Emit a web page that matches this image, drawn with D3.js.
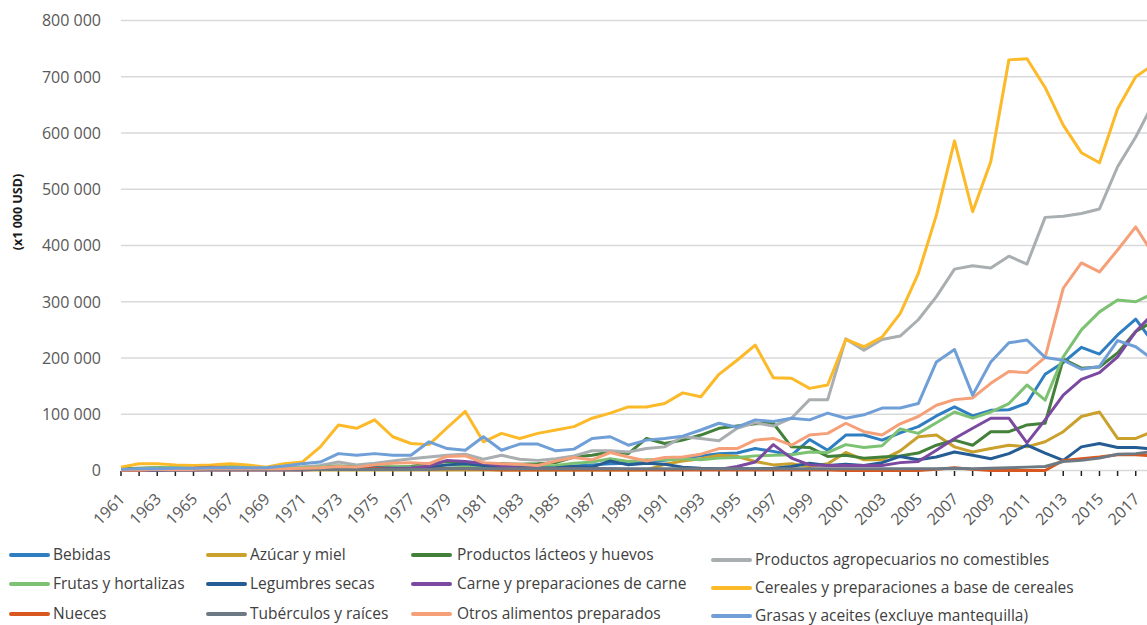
<!DOCTYPE html>
<html><head><meta charset="utf-8">
<script src="https://cdn.jsdelivr.net/npm/d3@7"></script>
<style>
html,body{margin:0;padding:0;background:#fff;overflow:hidden;}
svg{display:block;font-family:"Open Sans",sans-serif;}
</style></head><body>
<svg id="chart" width="1147" height="625"></svg>
<script>
const years = [1961,1962,1963,1964,1965,1966,1967,1968,1969,1970,1971,1972,1973,1974,1975,1976,1977,1978,1979,1980,1981,1982,1983,1984,1985,1986,1987,1988,1989,1990,1991,1992,1993,1994,1995,1996,1997,1998,1999,2000,2001,2002,2003,2004,2005,2006,2007,2008,2009,2010,2011,2012,2013,2014,2015,2016,2017,2018];

const bebidas = [1000,1000,1000,1000,1000,2000,2000,2000,2000,2000, 2000,2000,3000,3000,3000,3000,3000,4000,4000,5000, 5000,5000,5000,6000,7000,8000,10000,12000,13000,15000, 18000,22000,26000,30000,31000,39000,34000,27000,55000,36000, 63000,63000,54000,67000,78000,97000,113000,97000,107000,108000, 120000,171000,192000,219000,207000,241000,269000,226000];
const azucar = [1000,1000,1000,1000,1000,1000,1000,1000,1000,1000, 1000,1000,1000,1000,1000,1000,1000,1000,1000,1000, 1000,1000,1000,1000,1000,1000,1000,1000,1000,1000, 11000,17000,21000,27000,25000,16000,10000,12000,7000,12000, 32000,19000,19000,35000,60000,63000,42000,33000,39000,45000, 42000,51000,69000,96000,104000,57000,57000,70000];
const lacteos = [3000,4000,5000,6000,7000,8000,7000,6000,5000,5000, 6000,7000,8000,7000,8000,6000,7000,12000,16000,14000, 11000,12000,11000,12000,14000,24000,27000,33000,30000,57000, 48000,54000,63000,75000,79000,83000,84000,42000,41000,25000, 27000,22000,24000,26000,31000,45000,54000,45000,69000,69000, 81000,84000,198000,182000,184000,209000,247000,266000];
const noComestibles = [2000,2000,3000,3000,3000,3000,4000,4000,4000,5000, 6000,9000,15000,10000,13000,17000,21000,24000,27000,29000, 20000,27000,20000,18000,21000,26000,35000,35000,33000,39000, 42000,60000,57000,53000,75000,85000,79000,93000,126000,126000, 234000,214000,233000,239000,268000,309000,358000,364000,360000,381000, 367000,450000,452000,457000,465000,540000,593000,655000];
const frutas = [2000,3000,5000,6000,7000,8000,7000,6000,5000,5000, 5000,6000,7000,6000,8000,7000,6000,8000,10000,9000, 8000,7000,6000,7000,9000,13000,15000,21000,16000,19000, 19000,21000,19000,22000,23000,26000,27000,28000,33000,32000, 46000,41000,44000,74000,66000,85000,104000,93000,104000,119000, 152000,125000,202000,250000,282000,303000,300000,315000];
const legumbres = [1000,1000,1000,2000,2000,2000,2000,2000,2000,2000, 2000,2000,3000,4000,5000,4000,4000,6000,10000,12000, 9000,6000,5000,4000,5000,7000,6000,17000,10000,13000, 11000,6000,4000,3000,3000,3000,4000,7000,13000,9000, 11000,9000,14000,25000,19000,24000,33000,27000,21000,30000, 45000,31000,18000,42000,48000,41000,41000,38000];
const carne = [1000,1000,1000,1000,1000,1000,1000,1000,1000,1000, 1000,2000,2000,2000,3000,3000,4000,8000,18000,16000, 13000,8000,5000,4000,3000,3000,3000,3000,2000,2000, 2000,2000,2000,2000,7000,15000,46000,22000,10000,9000, 9000,9000,9000,14000,16000,36000,57000,75000,93000,93000, 49000,90000,134000,162000,174000,202000,247000,280000];
const cereales = [6000,12000,12000,10000,9000,10000,12000,10000,6000,12000, 15000,42000,81000,75000,90000,60000,48000,46000,76000,105000, 51000,66000,57000,66000,72000,78000,93000,102000,113000,113000, 119000,138000,131000,171000,196000,223000,165000,164000,146000,152000, 233000,220000,237000,279000,350000,454000,586000,460000,549000,730000, 732000,681000,614000,565000,547000,643000,700000,722000];
const nueces = [1000,1000,2000,3000,4000,6000,4000,2000,2000,2000, 2000,2000,3000,3000,3000,2000,2000,2000,3000,3000, 2000,1000,1000,1000,1000,1000,1000,1000,1000,1000, 1000,1000,1000,1000,1000,1000,1000,1000,1000,1000, 0,0,0,0,0,2000,5000,2000,0,0, 0,0,18000,21000,24000,28000,28000,26000];
const tuberculos = [2000,2000,2000,2000,2000,2000,2000,2000,2000,2000, 2000,2000,2000,2000,2000,2000,2000,2000,3000,3000, 3000,3000,3000,3000,3000,3000,3000,3000,3000,3000, 3000,3000,3000,3000,3000,3000,3000,3000,3000,3000, 3000,3000,3000,3000,3000,3000,4000,3000,4000,5000, 6000,7000,16000,18000,22000,29000,30000,34000];
const otros = [1000,1000,2000,2000,2000,3000,3000,3000,3000,3000, 4000,5000,7000,6000,10000,13000,14000,12000,25000,26000, 14000,12000,11000,9000,17000,23000,19000,32000,24000,17000, 23000,24000,29000,39000,39000,54000,57000,45000,63000,66000, 84000,69000,63000,83000,96000,116000,126000,129000,155000,176000, 174000,201000,324000,369000,353000,392000,433000,383000];
const grasas = [2000,3000,3000,4000,4000,5000,5000,5000,5000,8000, 12000,15000,30000,27000,30000,27000,27000,51000,39000,36000, 60000,36000,47000,47000,35000,38000,57000,60000,45000,54000, 57000,61000,72000,84000,77000,90000,87000,93000,90000,102000, 93000,99000,111000,111000,119000,193000,215000,134000,193000,227000, 232000,201000,196000,180000,185000,231000,220000,196000];

const seriesNames = ["Bebidas","Azúcar y miel","Productos lácteos y huevos","Productos agropecuarios no comestibles","Frutas y hortalizas","Legumbres secas","Carne y preparaciones de carne","Cereales y preparaciones a base de cereales","Nueces","Tubérculos y raíces","Otros alimentos preparados","Grasas y aceites (excluye mantequilla)"];
const seriesValues = [bebidas, azucar, lacteos, noComestibles, frutas, legumbres, carne, cereales, nueces, tuberculos, otros, grasas];
const seriesColors = ["#2f7ec2","#c9a12c","#43803a","#a9aeb1","#7dc273","#245c93","#7b4aa0","#fcb928","#d8581f","#6d7a84","#f5a078","#6f9fd6"];

const yTicks = [0,100000,200000,300000,400000,500000,600000,700000,800000];
const xLabelYears = [1961,1963,1965,1967,1969,1971,1973,1975,1977,1979,1981,1983,1985,1987,1989,1991,1993,1995,1997,1999,2001,2003,2005,2007,2009,2011,2013,2015,2017];
const yTitle = "(x1 000 USD)";

const svg = d3.select("#chart");
const x = d3.scaleLinear().domain([1961, 2018]).range([121, 121 + 57 * 18.12]);
const y = d3.scaleLinear().domain([0, 800000]).range([470.5, 20.5]);
const loc = d3.formatLocale({decimal: ",", thousands: "\u00a0", grouping: [3], currency: ["", ""]});
const fmt = loc.format(",");

// gridlines
svg.append("g").selectAll("line").data(yTicks).join("line")
  .attr("x1", 121).attr("x2", 1147)
  .attr("y1", d => y(d)).attr("y2", d => y(d))
  .attr("stroke", "#d9d9d9").attr("stroke-width", 1.5);

// y labels
svg.append("g").selectAll("text").data(yTicks).join("text")
  .attr("x", 101).attr("y", d => y(d)).attr("dy", "0.36em")
  .attr("text-anchor", "end").attr("font-size", 16).attr("fill", "#595959")
  .text(d => fmt(d).replace(/\u00a0/g, " "));

// y title
svg.append("text")
  .attr("transform", "translate(22,212) rotate(-90)")
  .attr("text-anchor", "middle").attr("font-size", 12.5).attr("font-weight", "bold").attr("fill", "#1a1a1a")
  .text(yTitle);

// x tick marks
svg.append("g").selectAll("line").data(years).join("line")
  .attr("x1", d => x(d)).attr("x2", d => x(d))
  .attr("y1", 471).attr("y2", 476)
  .attr("stroke", "#222").attr("stroke-width", 1.5);

// x labels
svg.append("g").selectAll("text").data(xLabelYears).join("text")
  .attr("transform", d => `translate(${x(d) + 5},500) rotate(-45)`)
  .attr("text-anchor", "end").attr("font-size", 16).attr("fill", "#595959")
  .text(d => d);

// lines
const line = d3.line().x((d, i) => x(years[i])).y(d => y(d));
svg.append("g").selectAll("path").data(seriesValues).join("path")
  .attr("d", d => line(d))
  .attr("fill", "none")
  .attr("stroke", (d, i) => seriesColors[i])
  .attr("stroke-width", 3)
  .attr("stroke-linejoin", "round");

// legend
const colLineX = [11, 208, 413, 713];
const colTextX = [53, 250, 457, 755];
const rowY = [[555, 584, 614], [555, 584, 614], [555, 584, 614], [560, 588, 616]];
const lg = svg.append("g");
seriesNames.forEach((name, i) => {
  const c = i % 4, r = Math.floor(i / 4);
  const yy = rowY[c][r];
  lg.append("line").attr("x1", colLineX[c]).attr("x2", colLineX[c] + 37)
    .attr("y1", yy).attr("y2", yy)
    .attr("stroke", seriesColors[i]).attr("stroke-width", 4).attr("stroke-linecap", "round");
  lg.append("text").attr("x", colTextX[c]).attr("y", yy).attr("dy", "0.35em")
    .attr("font-size", 15.5).attr("fill", "#404040").text(name);
});
</script>
</body></html>
